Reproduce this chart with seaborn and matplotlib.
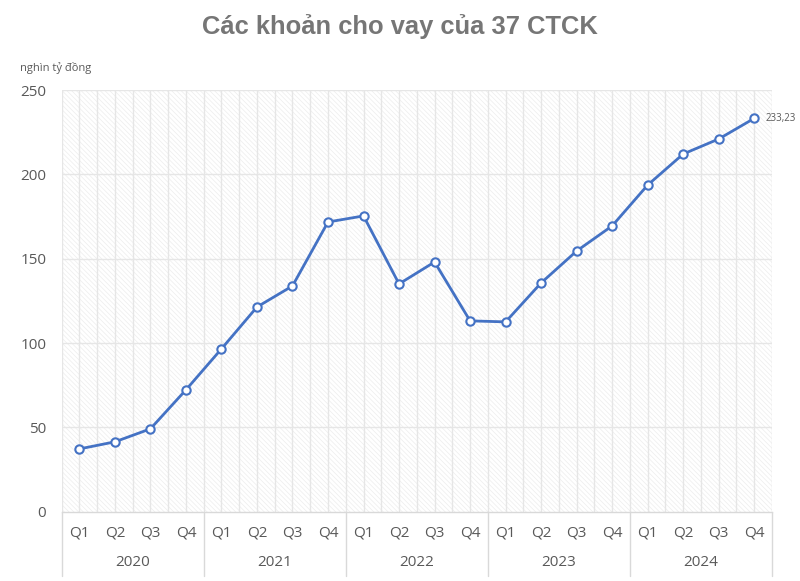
import matplotlib
matplotlib.use("Agg")
import matplotlib.pyplot as plt
import matplotlib.transforms as mtransforms
import seaborn as sns
import pandas as pd

# Data (nghìn tỷ đồng)
years = ["2020", "2021", "2022", "2023", "2024"]
quarters = ["Q1", "Q2", "Q3", "Q4"]
loans = [37.3, 41.5, 49.2, 72.3,
         96.6, 121.4, 133.9, 171.8,
         175.4, 135.1, 148.1, 113.2,
         112.6, 135.7, 154.6, 169.5,
         193.7, 212.1, 221.0, 233.23]
last_label = "233,23"

df = pd.DataFrame({
    "idx": range(len(loans)),
    "quarter": quarters * len(years),
    "year": [y for y in years for _ in quarters],
    "loans": loans,
})

sns.set_style("white")
plt.rcParams["font.family"] = ["Open Sans", "DejaVu Sans"]
plt.rcParams["hatch.color"] = "#ededed"
plt.rcParams["hatch.linewidth"] = 0.5

txt = "#595959"
line_col = "#4472C4"
grid_col = "#e6e6e6"

fig = plt.figure(figsize = (8, 5.81), dpi = 100)
ax = fig.add_axes([0.077, 0.119, 0.888, 0.726])

ax.patch.set_facecolor("white")
ax.patch.set_hatch("\\\\\\\\\\\\\\")
ax.patch.set_edgecolor("#ededed")
ax.patch.set_linewidth(0)

sns.lineplot(data = df, x = "idx", y = "loans", color = line_col, linewidth = 2,
             marker = "o", markersize = 6, markerfacecolor = "white",
             markeredgecolor = line_col, markeredgewidth = 1.5, ax = ax, zorder = 3)

n = len(loans)
ax.set_xlim(-0.5, n - 0.5)
ax.set_ylim(0, 250)
ax.set_yticks(range(0, 251, 50))
ax.set_xticks(range(n))
ax.set_xticklabels(df["quarter"])
ax.set_xlabel("")
ax.set_ylabel("")

# light grid: every 50 horizontally, every half quarter vertically
for yv in range(50, 251, 50):
    ax.axhline(yv, color = grid_col, linewidth = 1, zorder = 1)
for k in range(2 * n + 1):
    ax.axvline(-0.5 + k * 0.5, color = grid_col, linewidth = 1, zorder = 1)

for s in ["top", "right", "left"]:
    ax.spines[s].set_visible(False)
ax.spines["bottom"].set_color("#d9d9d9")
ax.spines["bottom"].set_linewidth(1)

ax.tick_params(axis = "x", length = 0, pad = 10, labelsize = 11, labelcolor = txt)
ax.tick_params(axis = "y", length = 0, pad = 11, labelsize = 11, labelcolor = txt)

# year group labels and separators
trans = mtransforms.blended_transform_factory(ax.transData, ax.transAxes)
for i, yr in enumerate(years):
    ax.text(i * 4 + 1.5, -0.121, yr, transform = trans, ha = "center", va = "center",
            fontsize = 11, color = txt)
for i in range(len(years) + 1):
    ax.plot([i * 4 - 0.5, i * 4 - 0.5], [0, -0.152], transform = trans,
            color = "#d9d9d9", linewidth = 1, clip_on = False)

ax.annotate(last_label, (n - 1, loans[-1]), xytext = (8, 0), textcoords = "offset points",
            ha = "left", va = "center", fontsize = 7, color = txt)

fig.text(0.5, 0.955, "Các khoản cho vay của 37 CTCK", ha = "center", va = "center",
         fontsize = 18.4, fontweight = "bold", color = "#767676",
         family = ["Liberation Sans", "DejaVu Sans"])
fig.text(0.025, 0.883, "nghìn tỷ đồng", ha = "left", va = "center", fontsize = 8, color = txt)

fig.savefig("out.png", dpi = 100)
